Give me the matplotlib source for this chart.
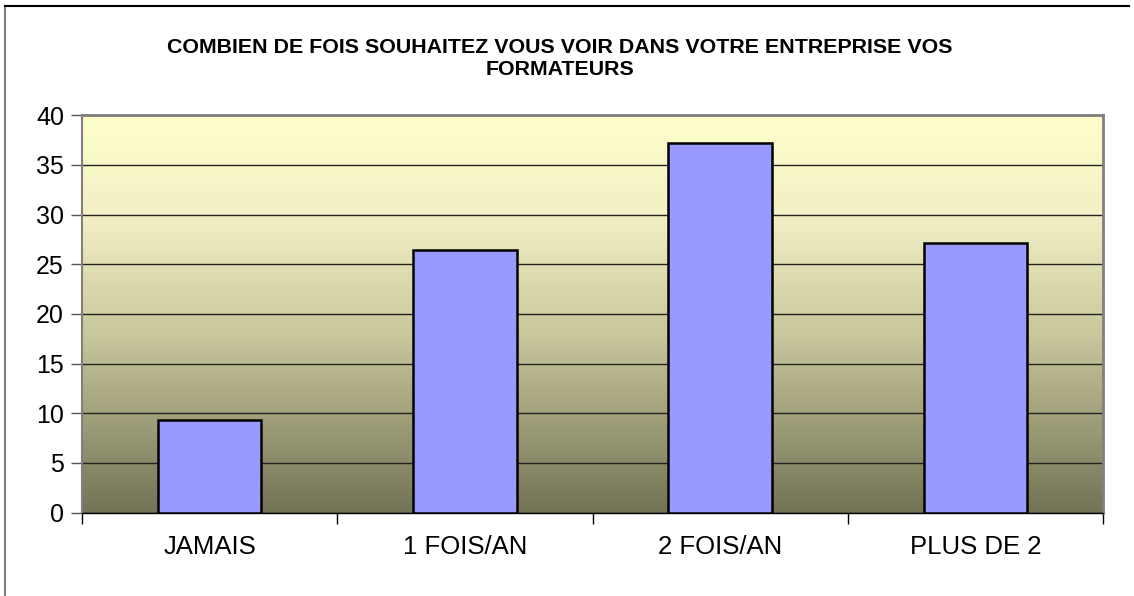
import matplotlib
matplotlib.use("Agg")
import matplotlib.pyplot as plt
import numpy as np
from matplotlib.colors import LinearSegmentedColormap
from matplotlib.lines import Line2D

plt.rcParams['font.family'] = ['Liberation Sans', 'DejaVu Sans']

# donnees
categories = ['JAMAIS', '1 FOIS/AN', '2 FOIS/AN', 'PLUS DE 2']
valeurs = [9.3, 26.4, 37.2, 27.1]
titre = 'COMBIEN DE FOIS SOUHAITEZ VOUS VOIR DANS VOTRE ENTREPRISE VOS\nFORMATEURS'

fig = plt.figure(figsize=(11.34, 5.96), dpi=100)
ax = fig.add_axes([0.0723, 0.1398, 0.9004, 0.667])

# fond degrade jaune pale -> olive
cmap = LinearSegmentedColormap.from_list('fond', [(0.0, '#737356'), (0.45, '#c9c79c'),
                                                 (0.75, '#f2f0c4'), (1.0, '#ffffcc')])
grad = np.linspace(0, 1, 256).reshape(-1, 1)
ax.imshow(grad, cmap=cmap, aspect='auto', origin='lower',
          extent=[-0.5, 3.5, 0, 40], zorder=0)

x = np.arange(len(categories))
ax.bar(x, valeurs, width=0.405, color='#9999ff', edgecolor='black', linewidth=1.8, zorder=3)

ax.set_xlim(-0.5, 3.5)
ax.set_ylim(0, 40)
ax.set_yticks(np.arange(0, 41, 5))
ax.yaxis.grid(True, color='#222222', linewidth=1.0, zorder=1)
ax.set_axisbelow(True)

ax.set_xticks(x)
ax.set_xticklabels(categories, fontsize=18.5)
ax.set_xticks(np.arange(-0.5, 4, 1), minor=True)
ax.tick_params(axis='x', which='major', length=0, pad=16)
ax.tick_params(axis='x', which='minor', length=8, width=1, color='black')
ax.tick_params(axis='y', labelsize=18, length=8, width=1, color='#555555', pad=5)

for s in ['top', 'right']:
    ax.spines[s].set_color('#808080')
    ax.spines[s].set_linewidth(2)
ax.spines['left'].set_color('#808080')
ax.spines['left'].set_linewidth(1.5)
ax.spines['bottom'].set_color('black')
ax.spines['bottom'].set_linewidth(1)

fig.text(0.494, 0.902, titre, ha='center', va='center', fontsize=15.4,
         fontweight='bold', linespacing=1.25)

# cadre du graphique
fig.add_artist(Line2D([5 / 1134, 5 / 1134], [0, 1 - 6 / 596], transform=fig.transFigure,
                      color='#808080', linewidth=1.5))
fig.add_artist(Line2D([5 / 1134, 1129 / 1134], [1 - 6 / 596, 1 - 6 / 596], transform=fig.transFigure,
                      color='black', linewidth=1.5))

fig.savefig('out.png', dpi=100)
